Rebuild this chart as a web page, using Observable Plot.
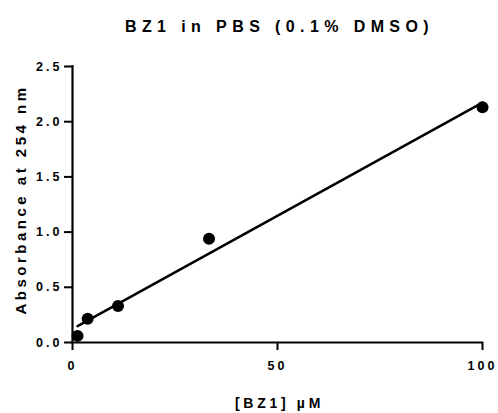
<!DOCTYPE html>
<html>
<head>
<meta charset="utf-8">
<script src="https://cdn.jsdelivr.net/npm/d3@7"></script>
<script src="https://cdn.jsdelivr.net/npm/@observablehq/plot@0.6"></script>
<style>
  html, body { margin: 0; padding: 0; background: #fff; }
  #chart svg { display: block; }
</style>
</head>
<body>
<div id="chart"></div>
<script>
const concentrations = [1.23, 3.7, 11.1, 33.3, 100];
const absorbance = [0.06, 0.215, 0.33, 0.94, 2.13];
const xTicks = [0, 50, 100];
const yTicks = [0, 0.5, 1.0, 1.5, 2.0, 2.5];
const titleText = "BZ1 in PBS (0.1% DMSO)";
const xLabel = "[BZ1] µM";
const yLabel = "Absorbance at 254 nm";

const data = concentrations.map((c, i) => ({x: c, y: absorbance[i]}));

const chart = Plot.plot({
  width: 498,
  height: 413,
  marginLeft: 72,
  marginRight: 16,
  marginTop: 66,
  marginBottom: 71,
  style: {background: "#fff", color: "#000", fontFamily: "'Liberation Sans', Arial, sans-serif", fontWeight: "bold"},
  x: {domain: [0, 100]},
  y: {domain: [0, 2.5]},
  marks: [
    Plot.axisY(yTicks, {tickSize: 8, tickPadding: 2, stroke: "#000", strokeWidth: 2, fontSize: 12.5, tickFormat: d => d.toFixed(1), label: null}),
    Plot.axisX(xTicks, {tickSize: 8, tickPadding: 11, stroke: "#000", strokeWidth: 2, fontSize: 12.5, tickFormat: d => String(d), label: null}),
    Plot.ruleX([0], {stroke: "#000", strokeWidth: 2.2, strokeLinecap: "square"}),
    Plot.ruleY([0], {stroke: "#000", strokeWidth: 2.2, strokeLinecap: "square"}),
    Plot.linearRegressionY(data, {x: "x", y: "y", ci: 0, stroke: "#000", strokeWidth: 2.5}),
    Plot.dot(data, {x: "x", y: "y", r: 6, fill: "#000", stroke: null}),
    Plot.text([titleText], {frameAnchor: "top", lineAnchor: "bottom", textAnchor: "middle", dy: -35, dx: 2, fontSize: 16, fill: "#000", ariaLabel: () => "title"}),
    Plot.text([xLabel], {frameAnchor: "bottom", lineAnchor: "bottom", textAnchor: "middle", dy: 65, dx: 2, fontSize: 14, fill: "#000", ariaLabel: () => "xtitle"}),
    Plot.text([yLabel], {frameAnchor: "left", lineAnchor: "bottom", textAnchor: "middle", rotate: -90, dx: -47, dy: -5, fontSize: 15, fill: "#000", ariaLabel: () => "ytitle"})
  ]
});

// letter spacing and weight, applied to the rendered text
const svg = d3.select(chart);
svg.selectAll("text").attr("font-weight", "bold").style("fill", "#000");
svg.selectAll('g[aria-label="y-axis tick label"] text, g[aria-label="x-axis tick label"] text').style("letter-spacing", "3px");
svg.selectAll('text[aria-label="title"]').style("letter-spacing", "5.4px");
svg.selectAll('text[aria-label="xtitle"]').style("letter-spacing", "3.7px");
svg.selectAll('text[aria-label="ytitle"]').style("letter-spacing", "3.5px");

document.getElementById("chart").appendChild(chart);
</script>
</body>
</html>
